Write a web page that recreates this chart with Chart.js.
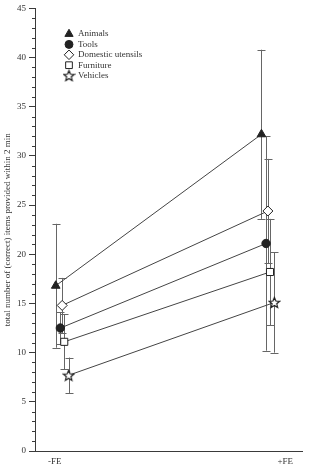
<!DOCTYPE html>
<html>
<head>
<meta charset="utf-8">
<script src="https://cdn.jsdelivr.net/npm/chart.js@4.4.1/dist/chart.umd.min.js"></script>
<style>
  html, body { margin: 0; padding: 0; background: #fff; }
  #wrap { width: 309px; height: 467px; }
</style>
</head>
<body>
<div id="wrap"><canvas id="c" width="309" height="467"></canvas></div>
<script>
const categories = ['Animals', 'Tools', 'Domestic utensils', 'Furniture', 'Vehicles'];
const conditions = ['-FE', '+FE'];
const meanNoFE = [16.8, 12.5, 14.8, 11.1, 7.7];
const meanFE = [32.2, 21.1, 24.4, 18.2, 15.1];
const errNoFE = [6.3, 1.6, 2.8, 2.8, 1.8];
const errFE = [8.6, 10.9, 5.3, 5.4, 5.1];
const yTicks = [0, 5, 10, 15, 20, 25, 30, 35, 40, 45];

// horizontal placement of the two conditions and the small dodge per series
const condX = [0.004, 0.897];
const dodge = [0, 0.02, 0.028, 0.037, 0.056];

const INK = '#3a3a3a';
const FONT = '"Liberation Serif", "DejaVu Serif", serif';

// five-point open star, Chart.js only ships a cross-like "star"
function makeStar(size) {
  const c = document.createElement('canvas');
  c.width = size; c.height = size;
  const g = c.getContext('2d');
  const cx = size / 2, cy = size / 2 + 0.5, R = size / 2 - 1, r = R * 0.45;
  g.beginPath();
  for (let i = 0; i < 10; i++) {
    const rad = i % 2 ? r : R;
    const a = -Math.PI / 2 + i * Math.PI / 5;
    g.lineTo(cx + rad * Math.cos(a), cy + rad * Math.sin(a));
  }
  g.closePath();
  g.fillStyle = '#fff';
  g.fill();
  g.strokeStyle = '#1a1a1a';
  g.lineWidth = 1.2;
  g.stroke();
  return c;
}
const star = makeStar(13);

const styles = [
  { pointStyle: 'triangle', radius: 5, fill: '#222' },
  { pointStyle: 'circle', radius: 4.2, fill: '#222' },
  { pointStyle: 'rectRot', radius: 5, fill: '#fff' },
  { pointStyle: 'rect', radius: 5, fill: '#fff' },
  { pointStyle: star, radius: 6, fill: '#fff' },
];

const datasets = categories.map((name, i) => ({
  label: name,
  data: [
    { x: condX[0] + dodge[i], y: meanNoFE[i], err: errNoFE[i] },
    { x: condX[1] + dodge[i], y: meanFE[i], err: errFE[i] },
  ],
  borderColor: '#444',
  borderWidth: 1,
  pointStyle: styles[i].pointStyle,
  pointRadius: styles[i].radius,
  pointHoverRadius: styles[i].radius,
  pointBackgroundColor: styles[i].fill,
  pointBorderColor: '#222',
  pointBorderWidth: 1,
  fill: false,
}));

const errorBars = {
  id: 'errorBars',
  beforeDatasetsDraw(chart) {
    const { ctx, scales: { x, y } } = chart;
    ctx.save();
    ctx.strokeStyle = '#666';
    ctx.lineWidth = 1;
    chart.data.datasets.forEach(ds => {
      ds.data.forEach(p => {
        const px = Math.round(x.getPixelForValue(p.x)) + 0.5;
        const top = y.getPixelForValue(p.y + p.err);
        const bot = y.getPixelForValue(p.y - p.err);
        ctx.beginPath();
        ctx.moveTo(px, top); ctx.lineTo(px, bot);
        ctx.moveTo(px - 4, Math.round(top) + 0.5); ctx.lineTo(px + 4, Math.round(top) + 0.5);
        ctx.moveTo(px - 4, Math.round(bot) + 0.5); ctx.lineTo(px + 4, Math.round(bot) + 0.5);
        ctx.stroke();
      });
    });
    ctx.restore();
  }
};

const minorTicks = {
  id: 'minorTicks',
  afterDraw(chart) {
    const { ctx, scales: { y }, chartArea } = chart;
    ctx.save();
    ctx.strokeStyle = INK;
    ctx.lineWidth = 1;
    ctx.beginPath();
    for (let v = y.min; v <= y.max; v++) {
      if (v % 5 === 0) continue;
      const py = Math.round(y.getPixelForValue(v)) + 0.5;
      ctx.moveTo(chartArea.left - 3, py);
      ctx.lineTo(chartArea.left, py);
    }
    // x axis line runs a little past the y axis, as in the original
    const by = Math.round(chartArea.bottom) + 0.5;
    ctx.moveTo(chartArea.left - 4, by);
    ctx.lineTo(chartArea.left, by);
    ctx.stroke();
    ctx.restore();
  }
};

const legendBox = {
  id: 'legendBox',
  afterDraw(chart) {
    const { ctx } = chart;
    ctx.save();
    ctx.font = '9px ' + FONT;
    ctx.textBaseline = 'middle';
    chart.data.datasets.forEach((ds, i) => {
      const yy = 34 + i * 10.4;
      ctx.fillStyle = ds.pointBackgroundColor;
      ctx.strokeStyle = '#222';
      ctx.lineWidth = 1;
      Chart.helpers.drawPoint(ctx, {
        pointStyle: ds.pointStyle,
        radius: ds.pointRadius * 0.95,
        rotation: 0,
        borderWidth: 1
      }, 69, yy);
      ctx.fillStyle = '#333';
      ctx.fillText(ds.label, 78, yy);
    });
    ctx.restore();
  }
};

new Chart(document.getElementById('c'), {
  type: 'line',
  data: { datasets },
  plugins: [errorBars, minorTicks, legendBox],
  options: {
    responsive: false,
    animation: false,
    layout: { padding: { top: 8, right: 4, left: 0, bottom: 0 } },
    plugins: {
      legend: { display: false },
      tooltip: { enabled: false },
    },
    scales: {
      x: {
        type: 'linear',
        min: -0.086,
        max: 1.073,
        afterBuildTicks: axis => { axis.ticks = conditions.map((c, i) => ({ value: i })); },
        afterFit: axis => { axis.height = 16; },
        ticks: {
          callback: v => conditions[v],
          color: '#333',
          font: { family: FONT, size: 9 },
          padding: 5,
          maxRotation: 0,
        },
        grid: { display: true, drawOnChartArea: false, drawTicks: false },
        border: { color: INK, width: 1 },
      },
      y: {
        min: 0,
        max: 45,
        afterBuildTicks: axis => { axis.ticks = yTicks.map(v => ({ value: v })); },
        afterFit: axis => { axis.width = 35; },
        ticks: {
          color: '#333',
          font: { family: FONT, size: 9 },
          padding: 3,
        },
        grid: { drawOnChartArea: false, tickLength: 6, tickColor: INK },
        border: { color: INK, width: 1 },
        title: {
          display: true,
          text: 'total number of (correct) items provided within 2 min',
          color: '#333',
          font: { family: FONT, size: 9 },
          padding: { top: 2, bottom: 0 },
        },
      },
    },
  },
});
</script>
</body>
</html>
